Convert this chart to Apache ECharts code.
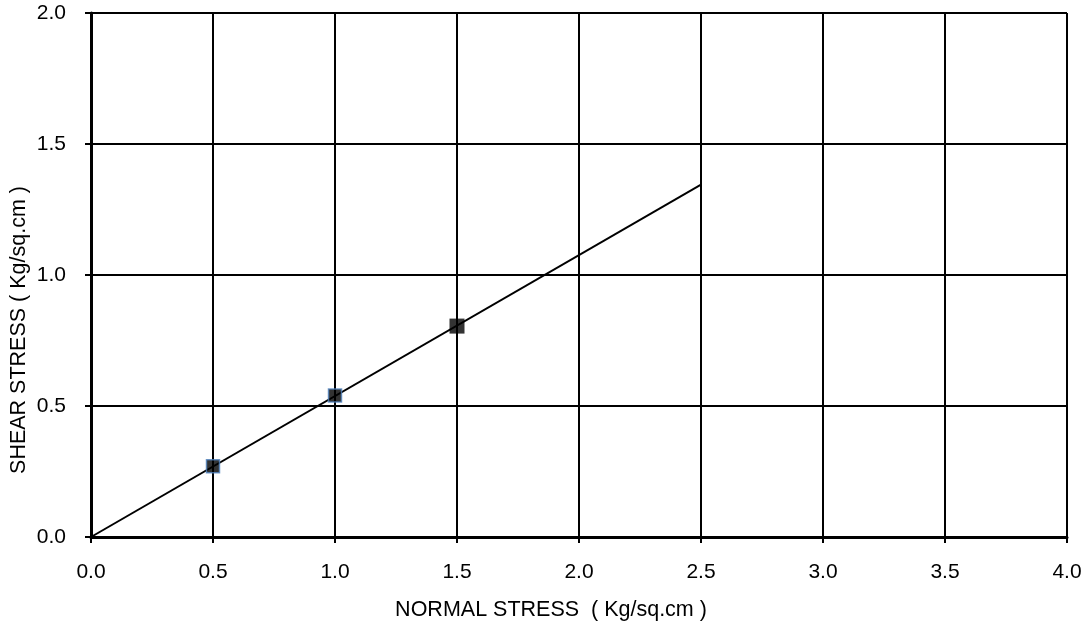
<!DOCTYPE html>
<html>
<head>
<meta charset="utf-8">
<script src="https://cdn.jsdelivr.net/npm/echarts@6/dist/echarts.min.js"></script>
<style>
  html, body { margin: 0; padding: 0; background: #fff; }
  #chart { width: 1089px; height: 625px; }
</style>
</head>
<body>
<div id="chart"></div>
<script>
// Direct shear test results: normal stress vs shear stress (Kg/sq.cm)
const normalStress = [0.5, 1.0, 1.5];
const shearStress = [0.27, 0.54, 0.805];
// Failure envelope drawn from the origin
const envelopeX = [0, 2.5];
const envelopeY = [0, 1.345];
const xTicks = [0, 0.5, 1.0, 1.5, 2.0, 2.5, 3.0, 3.5, 4.0];
const yTicks = [0, 0.5, 1.0, 1.5, 2.0];

const font = 'Liberation Sans, Arial, sans-serif';
const chart = echarts.init(document.getElementById('chart'));

const pointStyles = [
  { color: '#000', borderColor: '#4f81bd', borderWidth: 1.5, size: 13 },
  { color: '#000', borderColor: '#4f81bd', borderWidth: 1.5, size: 13 },
  { color: '#000', borderColor: '#000', borderWidth: 0, size: 15 }
];

chart.setOption({
  animation: false,
  backgroundColor: '#fff',
  grid: { left: 91, right: 22, top: 13, bottom: 88, containLabel: false, outerBoundsMode: 'none' },
  xAxis: {
    type: 'value',
    min: xTicks[0], max: xTicks[xTicks.length - 1], interval: 0.5,
    name: 'NORMAL STRESS  ( Kg/sq.cm )',
    nameLocation: 'middle', nameGap: 62, nameMoveOverlap: false,
    nameTextStyle: { fontFamily: font, fontSize: 21.5, color: '#000',
      padding: [0, 56, 0, 0] },
    axisLine: { show: true, lineStyle: { color: '#000', width: 3 } },
    axisTick: { show: true, length: 6, lineStyle: { color: '#000', width: 2 } },
    axisLabel: { fontFamily: font, fontSize: 21, color: '#000', margin: 25,
      formatter: v => v.toFixed(1) },
    splitLine: { show: true, lineStyle: { color: '#000', width: 2 } }
  },
  yAxis: {
    type: 'value',
    min: yTicks[0], max: yTicks[yTicks.length - 1], interval: 0.5,
    name: 'SHEAR STRESS ( Kg/sq.cm )',
    nameLocation: 'middle', nameGap: 61, nameMoveOverlap: false,
    nameTextStyle: { fontFamily: font, fontSize: 21.5, color: '#000',
      padding: [0, 110, 0, 0] },
    axisLine: { show: true, lineStyle: { color: '#000', width: 3 } },
    axisTick: { show: true, length: 6, lineStyle: { color: '#000', width: 2 } },
    axisLabel: { fontFamily: font, fontSize: 21, color: '#000', margin: 25,
      formatter: v => v.toFixed(1) },
    splitLine: { show: true, lineStyle: { color: '#000', width: 2 } }
  },
  series: [
    {
      type: 'line',
      data: envelopeX.map((x, i) => [x, envelopeY[i]]),
      showSymbol: false,
      lineStyle: { color: '#000', width: 2 },
      z: 3
    },
    {
      type: 'scatter',
      data: normalStress.map((x, i) => ({
        value: [x, shearStress[i]],
        symbolSize: pointStyles[i].size,
        itemStyle: {
          color: pointStyles[i].color,
          borderColor: pointStyles[i].borderColor,
          borderWidth: pointStyles[i].borderWidth
        }
      })),
      symbol: 'rect',
      z: 4
    }
  ]
});
</script>
</body>
</html>
